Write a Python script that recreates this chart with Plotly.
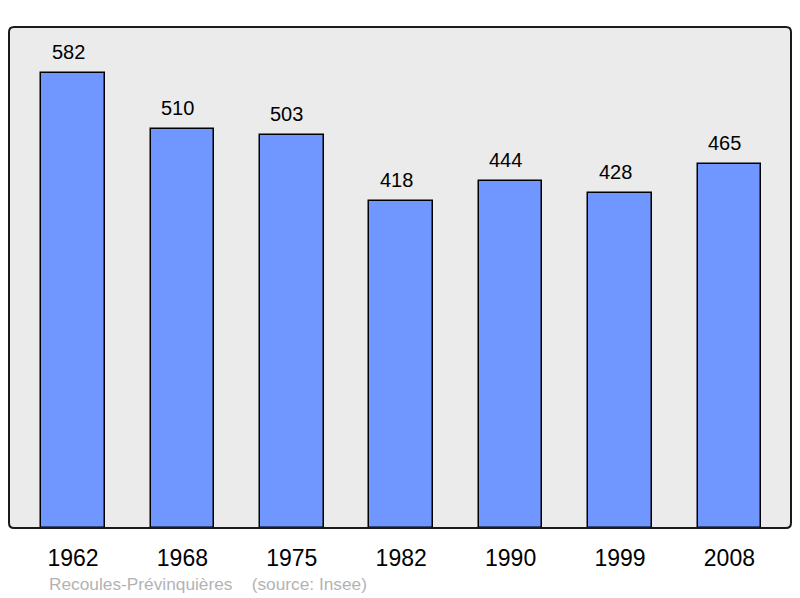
import plotly.graph_objects as go

years = ["1962", "1968", "1975", "1982", "1990", "1999", "2008"]
population = [582, 510, 503, 418, 444, 428, 465]
footnote = "Recoules-Prévinquières    (source: Insee)"

xs = list(range(len(years)))
FONT = "Liberation Sans, Arial, sans-serif"

fig = go.Figure()
fig.add_trace(go.Bar(
    x=xs, y=population, width=0.582,
    marker=dict(color="#7097ff", line=dict(color="#000000", width=1.5)),
    hoverinfo="skip",
))

for i, v in zip(xs, population):
    fig.add_annotation(x=i, y=v, text=str(v), showarrow=False,
                       yanchor="bottom", yshift=8, xshift=-5,
                       font=dict(family=FONT, size=20, color="#000"))

fig.add_annotation(xref="paper", yref="paper", x=(47 - 9) / 782, y=-0.112,
                   xanchor="left", yanchor="middle", text=footnote, showarrow=False,
                   font=dict(family=FONT, size=17.3, color="#b3b3b3"))

# rounded border
r = 5
W, H = 782, 501
rx, ry = r / W, r / H
path = (f"M {rx},0 L {1-rx},0 Q 1,0 1,{ry} L 1,{1-ry} Q 1,1 {1-rx},1 "
        f"L {rx},1 Q 0,1 0,{1-ry} L 0,{ry} Q 0,0 {rx},0 Z")
fig.add_shape(type="path", xref="paper", yref="paper", path=path,
              line=dict(color="#1a1a1a", width=2), layer="above")

fig.update_layout(
    width=792, height=590,
    margin=dict(l=1, r=9, t=19, b=70),
    paper_bgcolor="#ffffff", plot_bgcolor="#ebebeb",
    showlegend=False,
    bargap=0,
    xaxis=dict(range=[-0.585, 6.563], tickmode="array", tickvals=xs, ticktext=years,
               showgrid=False, zeroline=False, showline=False, ticks="",
               ticklabelstandoff=14,
               tickfont=dict(family=FONT, size=23, color="#000")),
    yaxis=dict(range=[0, 640.8], showgrid=False, zeroline=False, showticklabels=False,
               showline=False, ticks=""),
)

fig.write_html("out.html")
